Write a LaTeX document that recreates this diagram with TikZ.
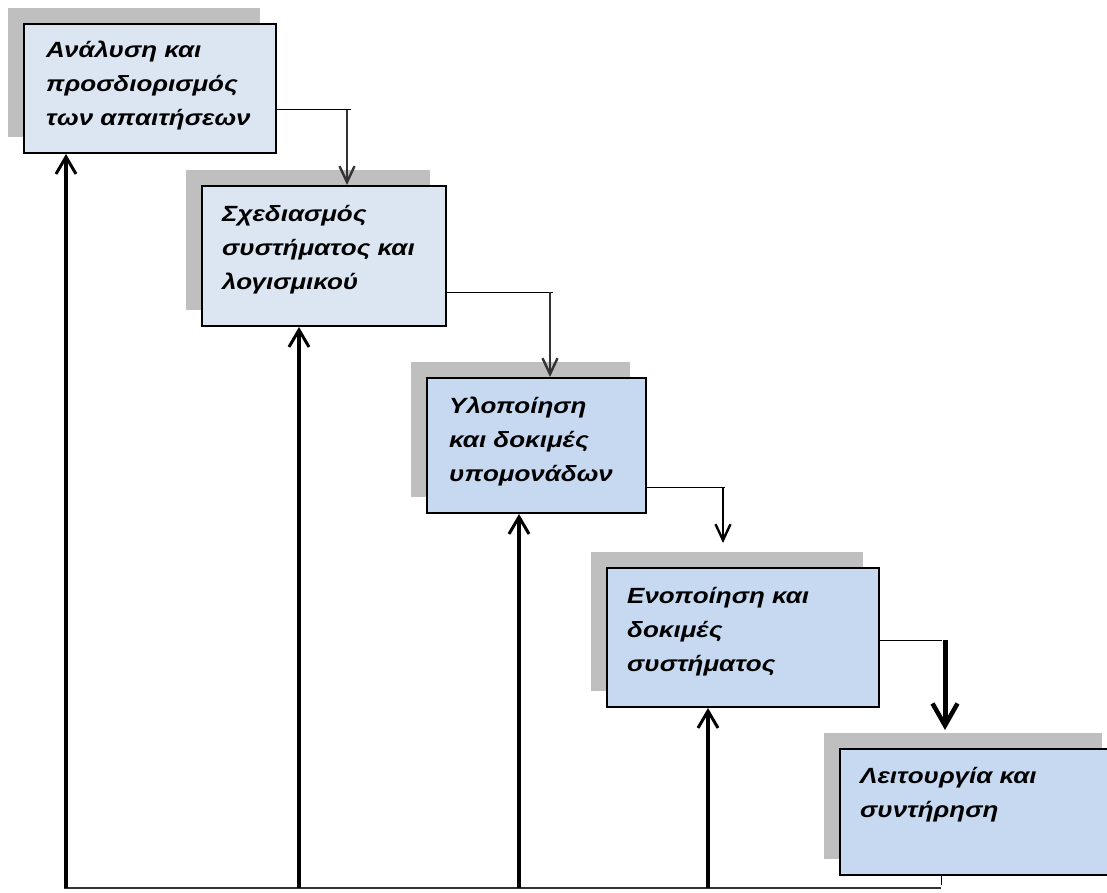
\documentclass[tikz,border=0pt]{standalone}
\usepackage{fontspec}
\setmainfont{Liberation Sans}
\newfontfamily\stagefont{Liberation Sans}[FakeStretch=1.18]
\usetikzlibrary{arrows.meta,shadows}
\definecolor{shade}{HTML}{BFBFBF}
\definecolor{paleblue}{HTML}{DCE6F2}
\definecolor{midblue}{HTML}{C6D9F1}
\definecolor{darkline}{HTML}{333333}
% stacked lines whose baseline is the first line's baseline
\newcommand{\stagelines}[1]{\vtop{\baselineskip=34pt\halign{##\hfil\cr#1\crcr}}}
\begin{document}
\begin{tikzpicture}[x=1pt,y=-1pt,
  stage/.style={draw=black, line width=2pt, anchor=north west, inner sep=0pt,
    general shadow={shadow xshift=-16pt, shadow yshift=16pt, fill=shade, draw=none}},
  stagetext/.style={anchor=base west, inner sep=0pt,
    font=\stagefont\fontsize{22}{34}\selectfont\bfseries\itshape},
  thinlink/.style={line width=1pt, draw=black},
  drop/.style={line width=2.6pt, draw=darkline,
    -{Straight Barb[length=16pt,width=15pt,line width=2.4pt]}},
  feed/.style={line width=3.2pt,
    -{Straight Barb[length=17pt,width=20pt,line width=3pt]}}
]
\clip (0,0) rectangle (1107,893);
\fill[white] (0,0) rectangle (1107,893);

% the five stages
\node[stage, fill=paleblue, minimum width=252pt, minimum height=129pt] (b1) at (23,23) {};
\node[stage, fill=paleblue, minimum width=244pt, minimum height=140pt] (b2) at (201,185) {};
\node[stage, fill=midblue, minimum width=219pt, minimum height=135pt] (b3) at (426,377) {};
\node[stage, fill=midblue, minimum width=272pt, minimum height=139pt] (b4) at (606,567) {};
\node[stage, fill=midblue, minimum width=278pt, minimum height=126pt] (b5) at (839,748) {};

\node[stagetext] (t1) at (46,58) {\stagelines{Ανάλυση και\cr προσδιορισμός\cr των απαιτήσεων}};
\node[stagetext] (t2) at (222,222) {\stagelines{Σχεδιασμός\cr συστήματος και\cr λογισμικού}};
\node[stagetext] (t3) at (449,413) {\stagelines{Υλοποίηση\cr και δοκιμές\cr υπομονάδων}};
\node[stagetext] (t4) at (627,603) {\stagelines{Ενοποίηση και\cr δοκιμές\cr συστήματος}};
\node[stagetext] (t5) at (860,783) {\stagelines{Λειτουργία και\cr συντήρηση}};

% forward links
\coordinate (k1) at (351,110); \coordinate (d1) at (347,110);
\coordinate (k2) at (553,292); \coordinate (d2) at (550,292);
\coordinate (k3) at (725,487); \coordinate (d3) at (723,487); \coordinate (e3) at (723,543);
\coordinate (k4) at (942,640); \coordinate (d4) at (945,640); \coordinate (e4) at (945,730);

\draw[thinlink] (b1.east |- k1) -- (k1);
\draw[drop] (d1) -- (d1 |- b2.north);
\draw[thinlink] (b2.east |- k2) -- (k2);
\draw[drop] (d2) -- (d2 |- b3.north);
\draw[thinlink] (b3.east |- k3) -- (k3);
\draw[drop, draw=black] (d3) -- (e3);
\draw[thinlink] (b4.east |- k4) -- (k4);
\draw[line width=5pt, -{Straight Barb[length=22pt,width=25pt,line width=4.5pt]}] (d4) -- (e4);

% feedback links
\coordinate (f1) at (66,888);
\coordinate (f2) at (299,888);
\coordinate (f3) at (519,888);
\coordinate (f4) at (708,888);
\coordinate (f5) at (941,888);
\draw[line width=1.5pt, draw=darkline] (64,888) -- (f5);
\draw[line width=1pt] (f5 |- b5.south) -- (941,885);
\draw[feed] (f1) -- (f1 |- b1.south);
\draw[feed] (f2) -- (f2 |- b2.south);
\draw[feed] (f3) -- (f3 |- b3.south);
\draw[feed] (f4) -- (f4 |- b4.south);
\end{tikzpicture}
\end{document}
